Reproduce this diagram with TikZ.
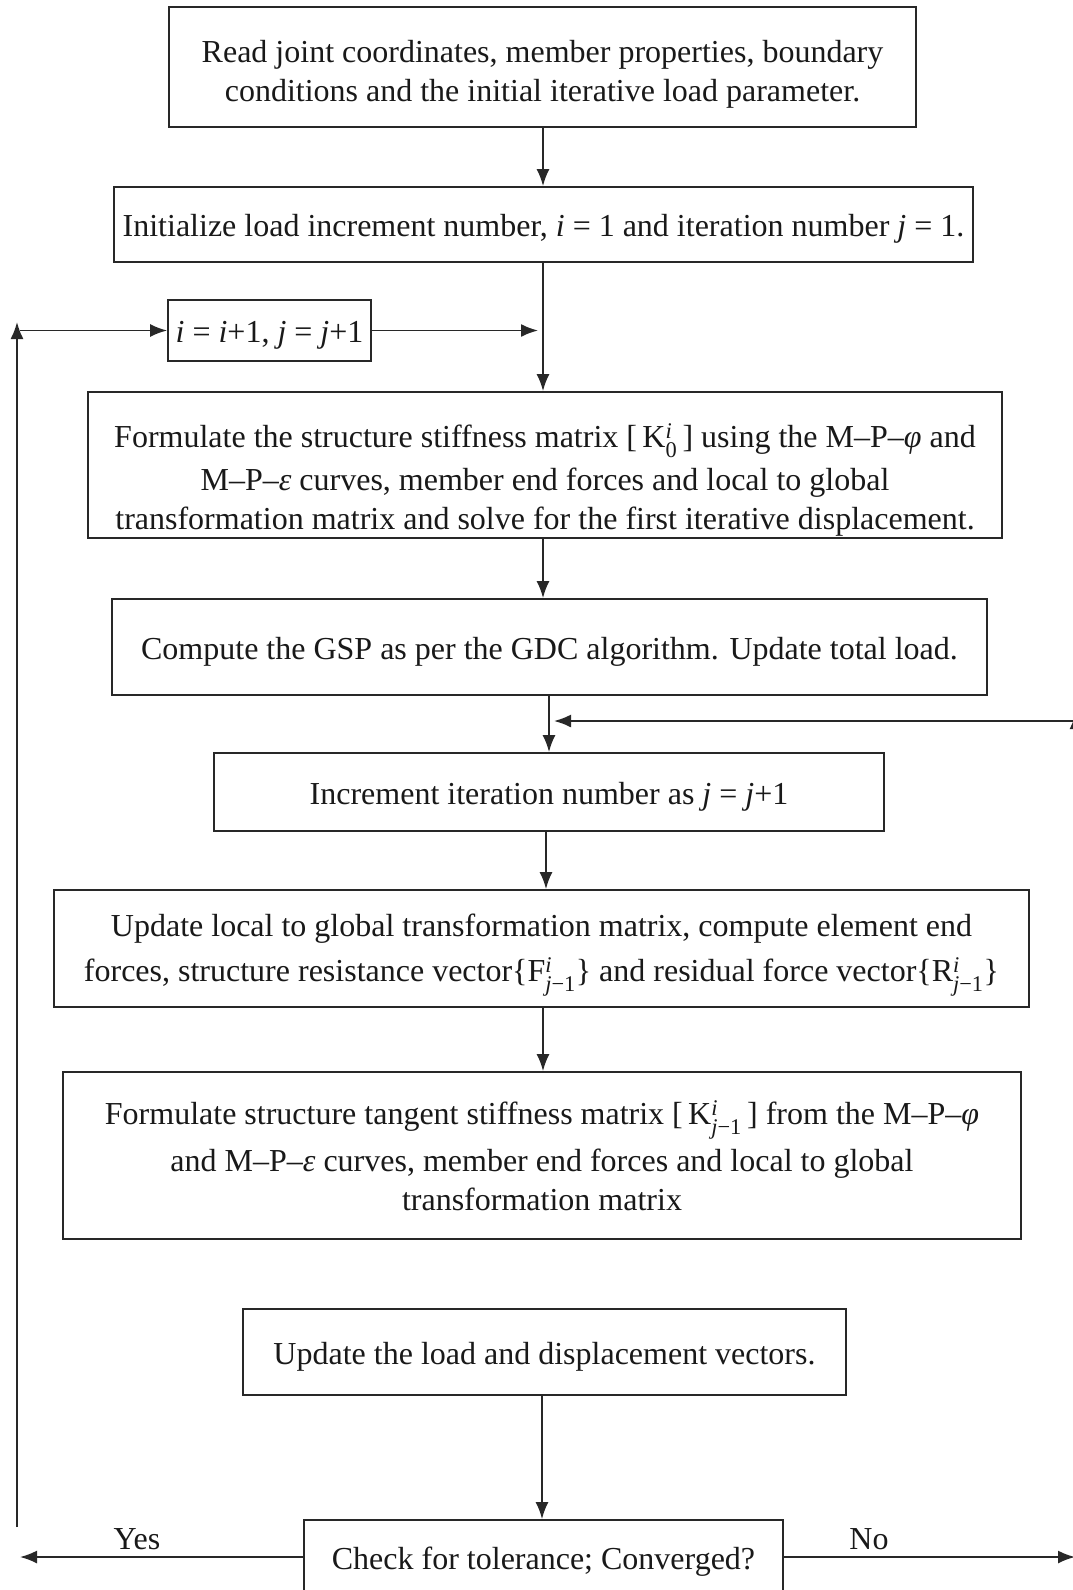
\documentclass[tikz,border=0pt]{standalone}
\usepackage{amsmath}
\usepackage{fontspec}
\setmainfont{Liberation Serif}
\usetikzlibrary{arrows.meta}
\definecolor{linec}{RGB}{40,40,40}
\definecolor{txtc}{RGB}{25,25,25}
\newcommand{\fsz}{\fontsize{32}{39}\selectfont}
\newcommand{\ii}{\textit{i}}
\newcommand{\jj}{\textit{j}}
\newcommand{\supsub}[2]{${}^{#1}_{#2}$}
\newcommand{\lift}[1]{\rule{0pt}{#1pt}}
\begin{document}
\begin{tikzpicture}[x=1pt,y=-1pt,
  box/.style={draw=linec, line width=1.8pt, inner sep=0pt, align=center,
              font=\fsz, text=txtc, fill=white},
  arr/.style={draw=linec, line width=1.8pt, -{Latex[length=17pt,width=13pt]}},
  lbl/.style={font=\fsz, text=txtc, inner sep=0pt}]
\useasboundingbox (0,0) rectangle (1073,1590);
\fill[white] (0,0) rectangle (1073,1590);

% main flow boxes
\node[box, minimum width=747pt, minimum height=120pt] (b1) at (542.5,67)
  {\lift{36}Read joint coordinates, member properties, boundary\\conditions and the initial iterative load parameter.};
\node[box, minimum width=859pt, minimum height=75pt] (b2) at (543.5,224.5)
  {\lift{31}Initialize load increment number, \ii{} = 1 and iteration number \jj{} = 1.};
\node[box, minimum width=203pt, minimum height=61pt] (b3) at (269.5,330.5)
  {\lift{31}\ii{} = \ii+1, \jj{} = \jj+1};
\node[box, minimum width=914pt, minimum height=146pt] (b4) at (545,465)
  {\lift{54}Formulate the structure stiffness matrix [\,K\supsub{\text{\ii}}{\text{0}}\,] using the M–P–\textit{φ} and\\[4pt]
   M–P–\textit{ε} curves, member end forces and local to global\\
   transformation matrix and solve for the first iterative displacement.};
\node[box, minimum width=875pt, minimum height=96pt] (b5) at (549.5,647)
  {\lift{31}Compute the GSP as per the GDC algorithm. Update total load.};
\node[box, minimum width=670pt, minimum height=78pt] (b6) at (549,792)
  {\lift{31}Increment iteration number as \jj{} = \jj+1};
\node[box, minimum width=975pt, minimum height=117pt] (b7) at (541.5,948.5)
  {\lift{36}Update local to global transformation matrix, compute element end\\[6pt]
   forces, structure resistance vector\{F\supsub{\text{\ii}}{\text{\jj−1}}\} and residual force vector\{R\supsub{\text{\ii}}{\text{\jj−1}}\}};
\node[box, minimum width=958pt, minimum height=167pt] (b8) at (542,1155.5)
  {Formulate structure tangent stiffness matrix [\,K\supsub{\text{\ii}}{\text{\jj−1}}\,] from the M–P–\textit{φ}\\[8pt]
   and M–P–\textit{ε} curves, member end forces and local to global\\
   transformation matrix};
\node[box, minimum width=603pt, minimum height=86pt] (b9) at (544.5,1352)
  {\lift{31}Update the load and displacement vectors.};
\node[box, minimum width=479pt, minimum height=74pt] (b10) at (543.5,1557)
  {\lift{31}Check for tolerance; Converged?};

% reference columns for the vertical connectors
\coordinate (mx) at (543,0);
\coordinate (mxb) at (549,0);
\coordinate (mxc) at (546,0);
\coordinate (mxd) at (542,0);

% downward flow
\draw[arr] (b1.south -| mx) -- (b2.north -| mx);
\draw[arr] (b2.south -| mx) -- (b4.north -| mx);
\draw[arr] (b4.south -| mx) -- (b5.north -| mx);
\draw[arr] (b5.south -| mxb) -- (b6.north -| mxb);
\draw[arr] (b6.south -| mxc) -- (b7.north -| mxc);
\draw[arr] (b7.south -| mx) -- (b8.north -| mx);
\draw[arr] (b9.south -| mxd) -- (b10.north -| mxd);

% next load increment loop
\coordinate (lbot) at (17,1527);
\coordinate (ltop) at (17,322);
\coordinate (lin) at (20,0);
\draw[arr] (lbot) -- (ltop);
\draw[arr] (b3.west -| lin) -- (b3.west);
\draw[arr, shorten >=5pt] (b3.east) -- (b3.east -| mx);

% convergence outlets
\coordinate (yesend) at (20,1557);
\coordinate (noend) at (1075,1557);
\draw[arr] (b10.west) -- (yesend |- b10.west);
\draw[arr] (b10.east) -- (noend |- b10.east);
\node[lbl] (yes) at (137,1539) {Yes};
\node[lbl] (no) at (869,1539) {No};

% return of the iteration loop from the right
\coordinate (rin) at (1076,721);
\coordinate (rup) at (1076,745);
\coordinate (rtip) at (1076,712);
\draw[arr, shorten >=5pt] (rin) -- (rin -| mxb);
\draw[arr] (rup) -- (rtip);
\end{tikzpicture}
\end{document}
